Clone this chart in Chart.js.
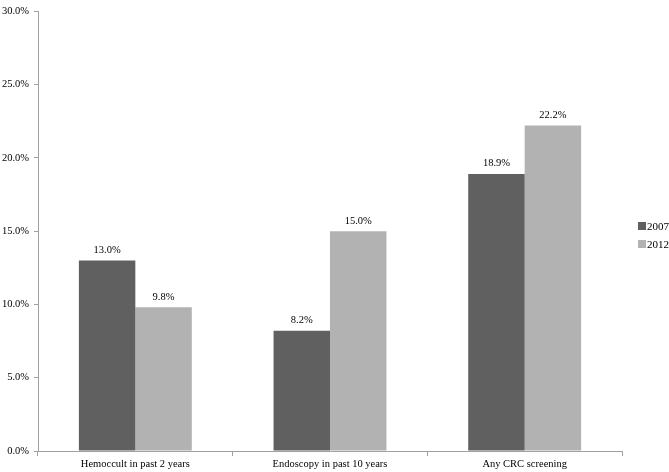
<!DOCTYPE html>
<html>
<head>
<meta charset="utf-8">
<script src="https://cdn.jsdelivr.net/npm/chart.js@4/dist/chart.umd.min.js"></script>
<style>
  body { margin: 0; background: #fff; }
</style>
</head>
<body>
<canvas id="chart" width="669" height="472"></canvas>
<script>
const categories = ["Hemoccult in past 2 years", "Endoscopy in past 10 years", "Any CRC screening"];
const values2007 = [13.0, 8.2, 18.9];
const values2012 = [9.8, 15.0, 22.2];
const seriesNames = ["2007", "2012"];
const seriesColors = ["#606060", "#b2b2b2"];

const FONT = "'Liberation Serif', 'Times New Roman', serif";

// value labels above each bar
const barLabels = {
  id: "barLabels",
  afterDatasetsDraw(chart) {
    const ctx = chart.ctx;
    ctx.save();
    ctx.font = "10.5px " + FONT;
    ctx.fillStyle = "#000";
    ctx.textAlign = "center";
    ctx.textBaseline = "bottom";
    chart.data.datasets.forEach((ds, i) => {
      chart.getDatasetMeta(i).data.forEach((bar, j) => {
        ctx.fillText(ds.data[j].toFixed(1) + "%", bar.x, bar.y - 5);
      });
    });
    ctx.restore();
  }
};

// small legend at the right side
const sideLegend = {
  id: "sideLegend",
  afterDraw(chart) {
    const ctx = chart.ctx;
    ctx.save();
    ctx.font = "11px " + FONT;
    ctx.textBaseline = "middle";
    chart.data.datasets.forEach((ds, i) => {
      const y = 226 + i * 18;
      ctx.fillStyle = ds.backgroundColor;
      ctx.fillRect(638, y - 4, 8, 8);
      ctx.fillStyle = "#000";
      ctx.fillText(ds.label, 647, y + 1);
    });
    ctx.restore();
  }
};

new Chart(document.getElementById("chart"), {
  type: "bar",
  data: {
    labels: categories,
    datasets: [
      { label: seriesNames[0], data: values2007, backgroundColor: seriesColors[0] },
      { label: seriesNames[1], data: values2012, backgroundColor: seriesColors[1] }
    ]
  },
  options: {
    responsive: false,
    animation: false,
    layout: { padding: { top: 8, right: 47, left: 0, bottom: 0 } },
    datasets: { bar: { barPercentage: 1, categoryPercentage: 0.58 } },
    plugins: { legend: { display: false }, tooltip: { enabled: false } },
    scales: {
      x: {
        afterFit(scale) { scale.height = 21; },
        grid: { offset: true, drawOnChartArea: false, tickLength: 5, color: "#a0a0a0" },
        border: { color: "#a0a0a0" },
        ticks: { color: "#000", font: { family: FONT, size: 10.5 }, padding: 2, maxRotation: 0 }
      },
      y: {
        min: 0,
        max: 30,
        afterFit(scale) { scale.width = 38; },
        grid: { drawOnChartArea: false, tickLength: 4, color: "#a0a0a0" },
        border: { color: "#a0a0a0" },
        ticks: {
          stepSize: 5,
          color: "#000",
          padding: 5,
          font: { family: FONT, size: 10.5 },
          callback: v => v.toFixed(1) + "%"
        }
      }
    }
  },
  plugins: [barLabels, sideLegend]
});
</script>
</body>
</html>
